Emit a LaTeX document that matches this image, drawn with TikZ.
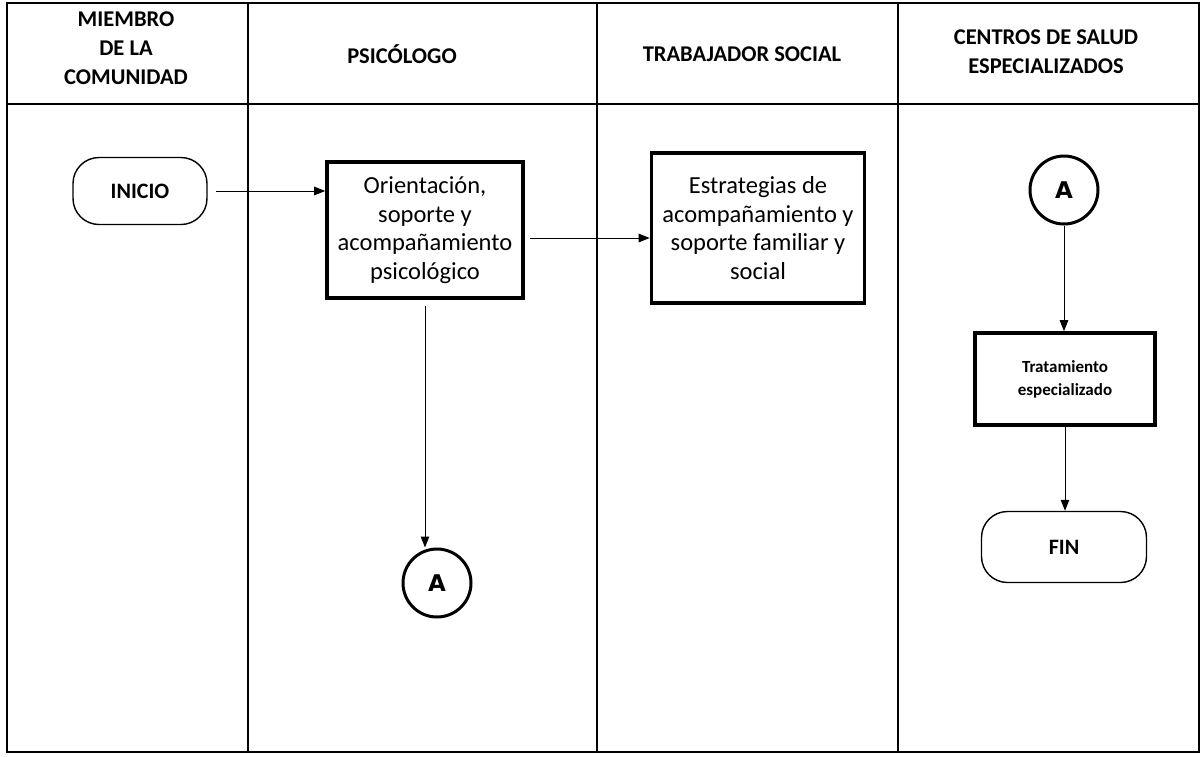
\documentclass[tikz,border=0pt]{standalone}
\usepackage{fontspec}
\setmainfont{Carlito}
\newfontfamily\connfont{DejaVu Sans}
\usepackage{tikz}
\usetikzlibrary{
	positioning,
	arrows.meta
}

\begin{document}
\begin{tikzpicture}[x=1pt,y=-1pt,
		head/.style={align=center,font=\fontsize{22.5}{29}\selectfont\bfseries},
		term/.style={draw,line width=1.4pt,rounded corners=26pt,minimum width=134pt,minimum height=67pt,font=\fontsize{22}{28}\selectfont\bfseries},
		proc/.style={draw,line width=3.6pt,align=center,inner sep=2pt,font=\fontsize{24.5}{28.5}\selectfont},
		conn/.style={draw,circle,line width=3pt,minimum size=68pt,inner sep=0pt,font=\connfont\fontsize{23}{26}\selectfont\bfseries},
		flow/.style={-{Triangle[length=11pt,width=8.5pt]},line width=1pt}
	]
		\useasboundingbox (0,0) rectangle (1203,756);

		% lanes
		\draw[line width=1.6pt] (7,3) rectangle (1199,752);
		\draw[line width=1.6pt] (7,104) -- (1199,104);
		\foreach \x in {248,597,898}
			\draw[line width=1.6pt] (\x,3) -- (\x,752);

		\node[head] (h1) at (126,48) {MIEMBRO\\DE LA\\COMUNIDAD};
		\node[head] (h2) at (402,54) {PSICÓLOGO};
		\node[head] (h3) at (742,54) {TRABAJADOR SOCIAL};
		\node[head] (h4) at (1046,52) {CENTROS DE SALUD\\ESPECIALIZADOS};

		\draw
			node[term] (ini) at (140,191) {INICIO}
			node[proc,minimum width=196pt,minimum height=136pt] (orient) at (425,230)
				{Orientación,\\soporte y\\acompañamiento\\psicológico}
			node[proc,minimum width=213pt,minimum height=150pt] (estr) at (758,228)
				{Estrategias de\\acompañamiento y\\soporte familiar y\\social}
			node[conn] (a1) at (437,583) {A}
			node[conn] (a2) at (1064,190) {A}
			node[proc,minimum width=180pt,minimum height=92pt,font=\fontsize{17}{23}\selectfont\bfseries] (trat) at (1065,379)
				{Tratamiento\\especializado}
			node[term,minimum width=165pt,minimum height=71pt] (fin) at (1064,547) {FIN}

			(ini.east)              edge[flow,shorten <=8pt] (ini.east -| orient.west)
			([yshift=-8pt]orient.east) edge[flow,shorten <=5pt] ([yshift=-8pt]orient.east -| estr.west)
			(orient.south)          edge[flow,shorten <=6pt] (orient.south |- a1.north)
			(a2.south)              edge[flow]               (a2.south |- trat.north)
			(trat.south)            edge[flow]               (trat.south |- fin.north)
		;
	\end{tikzpicture}
\end{document}
